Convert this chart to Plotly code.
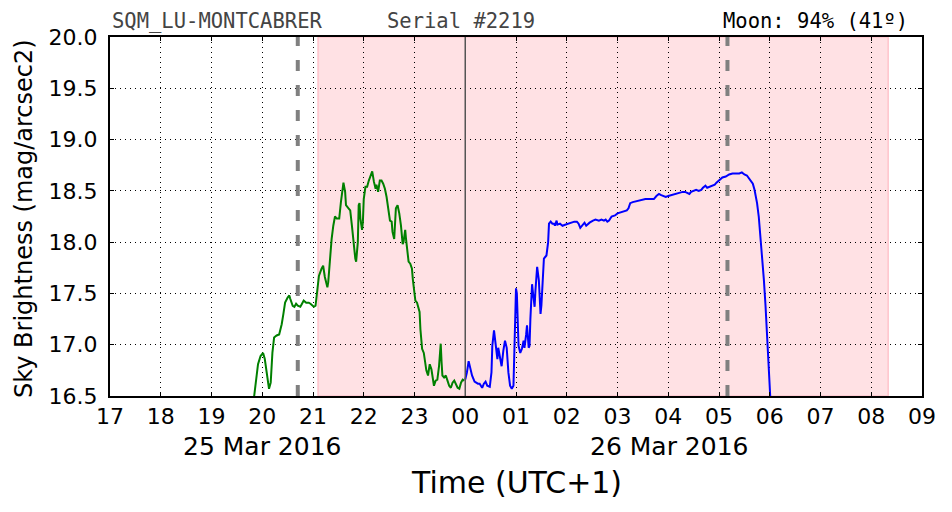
import pandas as pd
import plotly.graph_objects as go

# ---------------- data ----------------
day1 = "2016-03-25"
day2 = "2016-03-26"

green_time = ["19:49","19:55","19:58","20:01","20:03","20:06","20:08","20:10","20:12","20:14",
              "20:17","20:20","20:23","20:25","20:27","20:30","20:32","20:33","20:36","20:38",
              "20:40","20:42","20:45","20:47","20:49","20:52","20:55","20:57","20:59","21:01",
              "21:03","21:05","21:07","21:10","21:12","21:14","21:17","21:18","21:20","21:22",
              "21:24","21:26","21:28","21:31","21:33","21:35","21:36","21:38","21:39","21:42",
              "21:44","21:46","21:48","21:50","21:51","21:53","21:54","21:55","21:56","21:58",
              "21:59","22:00","22:02","22:04","22:06","22:08","22:10","22:12","22:14","22:15",
              "22:17","22:19","22:21","22:23","22:25","22:27","22:29","22:31","22:33","22:34",
              "22:36","22:37","22:38","22:40","22:42","22:44","22:46","22:47","22:49","22:50",
              "22:51","22:53","22:55","22:57","22:58","23:00","23:01","23:03","23:06","23:07",
              "23:09","23:11","23:12","23:14","23:16","23:18","23:20","23:22","23:23","23:25",
              "23:27","23:29","23:31","23:32","23:33","23:35","23:37","23:39","23:41","23:43",
              "23:45","23:47","23:49","23:51","23:53","23:55","23:57","23:59"]
green_mag = [16.40,16.81,16.89,16.92,16.86,16.66,16.57,16.63,16.92,17.07,
             17.09,17.10,17.20,17.30,17.41,17.46,17.48,17.45,17.38,17.37,
             17.40,17.38,17.37,17.40,17.43,17.41,17.41,17.40,17.38,17.37,
             17.38,17.51,17.67,17.74,17.77,17.66,17.56,17.61,17.84,18.03,
             18.16,18.25,18.23,18.23,18.39,18.55,18.58,18.49,18.36,18.33,
             18.31,18.16,17.97,17.84,17.81,18.00,18.36,18.38,18.23,18.12,
             18.20,18.42,18.54,18.54,18.60,18.64,18.69,18.59,18.52,18.56,
             18.49,18.60,18.60,18.57,18.52,18.44,18.33,18.21,18.20,18.10,
             18.03,18.23,18.33,18.36,18.28,18.16,17.98,18.00,18.12,18.03,
             17.94,17.81,17.79,17.74,17.64,17.53,17.43,17.41,17.32,17.15,
             16.96,16.92,16.86,16.75,16.70,16.81,16.76,16.62,16.60,16.65,
             16.66,16.79,17.01,16.83,16.70,16.68,16.70,16.65,16.60,16.58,
             16.63,16.65,16.62,16.58,16.57,16.63,16.66,16.65]

blue_time = ["00:00","00:02","00:04","00:06","00:08","00:11","00:15","00:17","00:20","00:22",
             "00:24","00:26","00:29","00:31","00:32","00:34","00:36","00:38","00:39","00:41",
             "00:43","00:45","00:47","00:49","00:51","00:53","00:55","00:57","00:58","01:00",
             "01:01","01:03","01:05","01:07","01:09","01:10","01:12","01:13","01:15","01:16",
             "01:17","01:19","01:20","01:22","01:23","01:25","01:27","01:28","01:29","01:30",
             "01:32","01:33","01:35","01:36","01:38","01:39","01:41","01:43","01:45","01:46",
             "01:48","01:49","01:52","01:55","01:58","02:01","02:05","02:09","02:12","02:14",
             "02:16","02:18","02:21","02:23","02:27","02:31","02:34","02:38","02:41","02:44",
             "02:46","02:48","02:50","02:53","02:57","03:00","03:04","03:08","03:11","03:13",
             "03:15","03:18","03:22","03:26","03:30","03:33","03:36","03:40","03:43","03:46",
             "03:49","03:51","03:54","03:57","04:00","04:04","04:08","04:13","04:17","04:20",
             "04:22","04:25","04:27","04:30","04:33","04:36","04:39","04:41","04:44","04:46",
             "04:49","04:52","04:55","04:57","05:00","05:04","05:08","05:12","05:16","05:20",
             "05:24","05:27","05:30","05:33","05:35","05:38","05:40","05:42","05:44","05:45",
             "05:47","05:49","05:51","05:53","05:55","05:57","05:58","06:00","06:01","06:02"]
blue_mag = [16.66,16.73,16.84,16.78,16.70,16.64,16.62,16.62,16.58,16.62,
            16.64,16.60,16.59,16.73,16.99,17.14,16.99,16.86,16.97,16.89,
            16.79,16.94,17.04,16.97,16.73,16.60,16.57,16.60,16.92,17.55,
            17.50,16.99,16.92,16.96,17.04,16.97,17.10,17.19,16.97,16.99,
            17.25,17.59,17.51,17.37,17.53,17.76,17.63,17.51,17.30,17.38,
            17.64,17.84,17.86,17.87,18.00,18.18,18.20,18.18,18.18,18.16,
            18.21,18.17,18.18,18.16,18.17,18.18,18.19,18.20,18.20,18.18,
            18.14,18.16,18.19,18.16,18.19,18.21,18.22,18.21,18.22,18.21,
            18.22,18.20,18.21,18.25,18.26,18.28,18.29,18.30,18.31,18.33,
            18.38,18.39,18.40,18.41,18.42,18.42,18.42,18.42,18.42,18.45,
            18.47,18.46,18.45,18.44,18.45,18.46,18.47,18.48,18.49,18.49,
            18.48,18.47,18.49,18.50,18.51,18.50,18.51,18.53,18.55,18.53,
            18.54,18.55,18.56,18.58,18.60,18.63,18.64,18.66,18.67,18.67,
            18.67,18.68,18.66,18.65,18.63,18.60,18.57,18.51,18.44,18.38,
            18.25,18.05,17.87,17.64,17.38,17.09,16.86,16.60,16.47,16.27]

x_range = ["2016-03-25 17:00", "2016-03-26 09:00"]
y_range = [16.5, 20.0]
night_start = "2016-03-25 21:06"
night_end = "2016-03-26 08:20"
moon_lines = ["2016-03-25 20:42", "2016-03-26 05:10"]
midnight = "2016-03-26 00:00"
date_labels = ["25 Mar 2016", "26 Mar 2016"]
date_label_pos = ["2016-03-25 20:00", "2016-03-26 04:02"]
station = "SQM_LU-MONTCABRER"
serial = "Serial #2219"
moon_text = "Moon: 94% (41º)"

gx = pd.to_datetime([f"{day1} {t}" for t in green_time])
bx = pd.to_datetime([f"{day2} {t}" for t in blue_time])

# ---------------- figure ----------------
fig = go.Figure()
fig.add_trace(go.Scatter(x=gx, y=green_mag, mode="lines",
                         line=dict(color="#008000", width=2), showlegend=False))
fig.add_trace(go.Scatter(x=bx, y=blue_mag, mode="lines",
                         line=dict(color="#0000ff", width=2), showlegend=False))

# night shading
fig.add_shape(type="rect", xref="x", yref="paper", x0=night_start, x1=night_end,
              y0=0, y1=1, fillcolor="#ffe1e4", line=dict(color="#ffc4cb", width=1.5),
              layer="below")
# moon dashed lines
for t in moon_lines:
    fig.add_shape(type="line", xref="x", yref="paper", x0=t, x1=t, y0=0, y1=1,
                  line=dict(color="#808080", width=4, dash="11px,14px"))
# midnight line
fig.add_shape(type="line", xref="x", yref="paper", x0=midnight, x1=midnight, y0=0, y1=1,
              line=dict(color="#555555", width=1.5))

font_main = "DejaVu Sans"
font_mono = "DejaVu Sans Mono"

for lab, pos in zip(date_labels, date_label_pos):
    fig.add_annotation(x=pos, xref="x", y=-0.14, yref="paper", text=lab, showarrow=False,
                       xanchor="center", yanchor="middle",
                       font=dict(family=font_main, size=25, color="black"))

fig.add_annotation(x=0.5, xref="paper", y=-0.24, yref="paper", text="Time (UTC+1)",
                   showarrow=False, xanchor="center", yanchor="middle",
                   font=dict(family=font_main, size=30, color="black"))
fig.add_annotation(x=-0.105, xref="paper", y=0.495, yref="paper",
                   text="Sky Brightness (mag/arcsec2)", textangle=-90, showarrow=False,
                   xanchor="center", yanchor="middle",
                   font=dict(family=font_main, size=24, color="black"))

fig.add_annotation(x=0.0, xref="paper", y=1.045, yref="paper", text=station, showarrow=False,
                   xanchor="left", yanchor="middle",
                   font=dict(family=font_mono, size=20.5, color="#444444"))
fig.add_annotation(x=0.339, xref="paper", y=1.045, yref="paper", text=serial, showarrow=False,
                   xanchor="left", yanchor="middle",
                   font=dict(family=font_mono, size=20.5, color="#444444"))
fig.add_annotation(x=0.752, xref="paper", y=1.045, yref="paper", text=moon_text, showarrow=False,
                   xanchor="left", yanchor="middle",
                   font=dict(family=font_mono, size=20.5, color="black"))

fig.update_layout(
    width=952, height=512,
    margin=dict(l=110, r=30, t=37, b=116),
    paper_bgcolor="white", plot_bgcolor="rgba(0,0,0,0)",
    showlegend=False,
)
fig.update_xaxes(
    type="date", range=x_range, tick0="2016-03-25 17:00", dtick=3600000, tickformat="%H",
    showline=True, linecolor="black", linewidth=2, mirror="allticks",
    ticks="inside", ticklen=4, tickcolor="black", tickwidth=1,
    showgrid=True, gridcolor="black", gridwidth=1, griddash="1px,4px",
    zeroline=False, tickfont=dict(family=font_main, size=22, color="black"),
    ticklabelstandoff=0,
)
fig.update_yaxes(
    range=y_range, dtick=0.5, tick0=16.5, tickformat=".1f",
    showline=True, linecolor="black", linewidth=2, mirror="allticks",
    ticks="inside", ticklen=4, tickcolor="black", tickwidth=1,
    showgrid=True, gridcolor="black", gridwidth=1, griddash="1px,4px",
    zeroline=False, tickfont=dict(family=font_main, size=22, color="black"),
    ticklabelstandoff=6,
)

fig.write_html("out.html")
